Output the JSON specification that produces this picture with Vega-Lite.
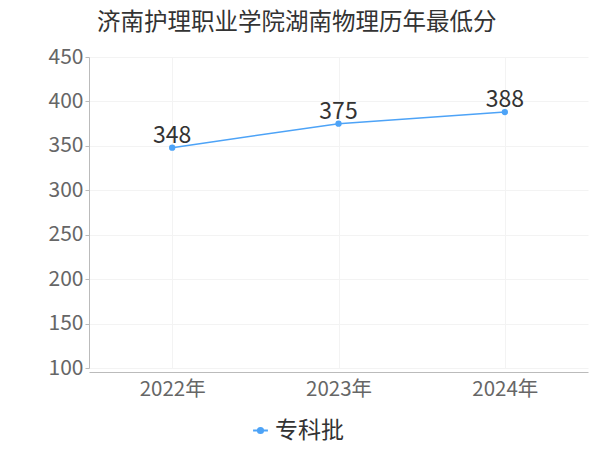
{
  "$schema": "https://vega.github.io/schema/vega-lite/v6.json",
  "width": 499,
  "height": 311,
  "autosize": "none",
  "padding": {"left": 89, "top": 57, "right": 12, "bottom": 82},
  "background": "white",
  "title": {
    "text": "济南护理职业学院湖南物理历年最低分",
    "anchor": "start",
    "frame": "group",
    "dx": 8,
    "offset": 12,
    "fontSize": 23.5,
    "fontWeight": "normal",
    "color": "#333333",
    "font": "Noto Sans CJK SC"
  },
  "data": {
    "values": [
      {"year": "2022年", "score": 348, "batch": "专科批"},
      {"year": "2023年", "score": 375, "batch": "专科批"},
      {"year": "2024年", "score": 388, "batch": "专科批"}
    ]
  },
  "encoding": {
    "x": {
      "field": "year",
      "type": "ordinal",
      "scale": {"type": "point", "padding": 0.5},
      "axis": {
        "title": null,
        "labelAngle": 0,
        "labelFontSize": 20.5,
        "labelColor": "#666666",
        "labelFont": "Noto Sans CJK SC",
        "labelPadding": 7,
        "domainColor": "#bbbbbb",
        "ticks": false,
        "offset": 4,
        "grid": true,
        "gridColor": "#f3f3f3"
      }
    },
    "y": {
      "field": "score",
      "type": "quantitative",
      "scale": {"domain": [100, 450]},
      "axis": {
        "title": null,
        "values": [100, 150, 200, 250, 300, 350, 400, 450],
        "labelFontSize": 21,
        "labelColor": "#666666",
        "labelFont": "Noto Sans CJK SC",
        "labelPadding": 2,
        "domainColor": "#bbbbbb",
        "tickColor": "#bbbbbb",
        "tickSize": 4,
        "gridColor": "#f3f3f3"
      }
    }
  },
  "layer": [
    {
      "mark": {"type": "line", "color": "#4da3f7", "strokeWidth": 1.5},
      "encoding": {
        "color": {
          "field": "batch",
          "type": "nominal",
          "scale": {"range": ["#4da3f7"]},
          "legend": {
            "title": null,
            "orient": "none",
            "legendX": 160,
            "legendY": 362,
            "labelFontSize": 23,
            "labelColor": "#333333",
            "labelFont": "Noto Sans CJK SC",
            "labelOffset": 3,
            "symbolType": "M-1,0H-0.35M0.35,0H1M-0.35,0A0.35,0.35,0,1,1,0.35,0A0.35,0.35,0,1,1,-0.35,0",
            "symbolSize": 220,
            "symbolStrokeWidth": 2,
            "symbolFillColor": "#4da3f7",
            "symbolStrokeColor": "#4da3f7"
          }
        }
      }
    },
    {
      "mark": {"type": "point", "filled": true, "size": 40, "color": "#4da3f7", "opacity": 1}
    },
    {
      "mark": {"type": "text", "dy": -12, "fontSize": 23, "color": "#333333", "font": "Noto Sans CJK SC"},
      "encoding": {"text": {"field": "score", "type": "quantitative"}}
    }
  ],
  "config": {"view": {"stroke": null}}
}
